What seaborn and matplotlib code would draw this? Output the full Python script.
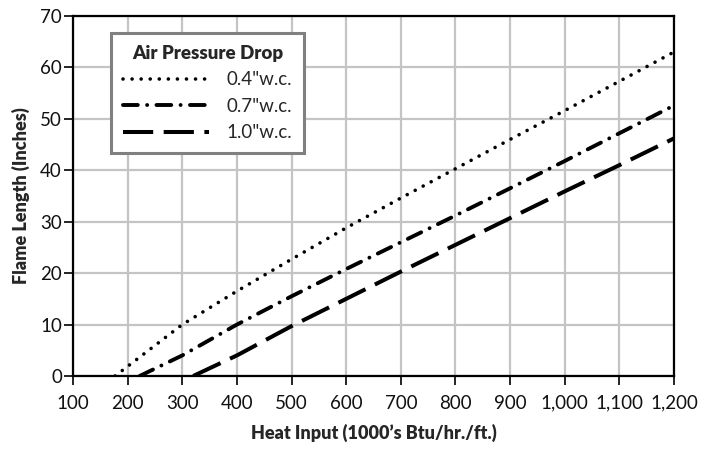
import pandas as pd
import matplotlib
matplotlib.use('Agg')
import matplotlib.pyplot as plt
import seaborn as sns

# Values
heat_input = [100, 200, 300, 400, 500, 600, 700, 800, 900, 1000, 1100, 1200]
start_04, start_07, start_10 = 177, 222, 320
flame_04 = [10.0, 16.5, 22.7, 28.8, 34.6, 40.3, 46.0, 51.6, 57.3, 63.0]
flame_07 = [4.0, 10.0, 15.5, 20.8, 26.0, 31.2, 36.5, 41.8, 47.2, 52.6]
flame_10 = [4.0, 9.7, 15.0, 20.3, 25.5, 30.7, 35.9, 41.0, 46.2]
tick_labels = ['100', '200', '300', '400', '500', '600', '700', '800', '900',
               '1,000', '1,100', '1,200']
series_names = ['0.4"w.c.', '0.7"w.c.', '1.0"w.c.']

d04 = pd.DataFrame({'x': [start_04] + heat_input[2:], 'y': [0] + flame_04})
d07 = pd.DataFrame({'x': [start_07] + heat_input[2:], 'y': [0] + flame_07})
d10 = pd.DataFrame({'x': [start_10] + heat_input[3:], 'y': [0] + flame_10})

sns.set_style('white')
plt.rcParams['font.family'] = ['Lato', 'DejaVu Sans']

fig = plt.figure(figsize=(7.06, 4.49), dpi=100)
ax = fig.add_axes([0.1034, 0.1626, 0.8513, 0.8018])

sns.lineplot(data=d04, x='x', y='y', ax=ax, color='black', lw=2.6,
             label=series_names[0])
sns.lineplot(data=d07, x='x', y='y', ax=ax, color='black', lw=2.8,
             label=series_names[1])
sns.lineplot(data=d10, x='x', y='y', ax=ax, color='black', lw=2.9,
             label=series_names[2])
lines = ax.get_lines()
lines[0].set_linestyle((0, (0.01, 2.5)))
lines[0].set_dash_capstyle('round')
lines[1].set_linestyle((0, (3.8, 2.4, 0.01, 2.4)))
lines[1].set_dash_capstyle('round')
lines[2].set_linestyle((0, (7.5, 2.6)))

ax.set_xlim(100, 1200)
ax.set_ylim(0, 70)
ax.set_xticks(heat_input)
ax.set_xticklabels(tick_labels)
ax.set_yticks(range(0, 71, 10))
ax.grid(True, color='#c4c4c4', lw=1.6)
ax.set_axisbelow(True)
for s in ax.spines.values():
    s.set_color('black')
    s.set_linewidth(1.6)
ax.tick_params(axis='both', direction='out', length=6.5, width=1.2,
               color='black', labelsize=13.5, labelcolor='#111111',
               bottom=True, left=True)
ax.tick_params(axis='x', pad=7)
ax.tick_params(axis='y', pad=1.5)
ax.set_xlabel("Heat Input (1000\u2019s Btu/hr./ft.)", fontsize=13,
              fontweight='heavy', labelpad=9)
ax.set_ylabel('Flame Length (Inches)', fontsize=13, fontweight='heavy',
              labelpad=7)

leg = ax.legend(title='Air Pressure Drop', loc='upper left',
                bbox_to_anchor=(0.063, 0.953), fontsize=13.5,
                title_fontproperties={'weight': 'heavy', 'size': 13.5},
                frameon=True, fancybox=False, handlelength=4.6,
                labelspacing=0.5, borderpad=0.65, handletextpad=0.9,
                borderaxespad=0)
leg.get_frame().set_edgecolor('#808080')
leg.get_frame().set_linewidth(2.2)
leg.get_frame().set_alpha(1)

fig.savefig('out.png', dpi=100)
